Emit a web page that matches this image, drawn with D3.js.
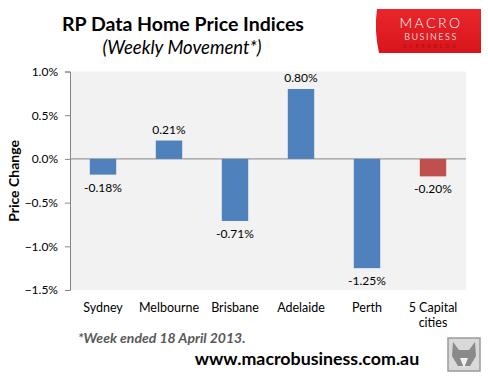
<!DOCTYPE html>
<html>
<head>
<meta charset="utf-8">
<script src="https://cdn.jsdelivr.net/npm/d3@7"></script>
<style>
  body { margin: 0; background: #fff; }
  text { font-family: Lato, "Open Sans", sans-serif; }
</style>
</head>
<body>
<div id="chart"></div>
<script>
const cities = ["Sydney", "Melbourne", "Brisbane", "Adelaide", "Perth", "5 Capital cities"]
const weeklyChange = [-0.18, 0.21, -0.71, 0.80, -1.25, -0.20]
const yTicks = [1.0, 0.5, 0.0, -0.5, -1.0, -1.5]

const width = 488
const height = 381
const plot = {left: 70, right: 466, top: 71.5, bottom: 290}

const svg = d3.select("#chart")
  .append("svg")
  .attr("width", width)
  .attr("height", height)

const x = d3.scaleBand()
  .domain(cities)
  .range([plot.left, plot.right])
  .paddingInner(0.6)
  .paddingOuter(0.3)

const y = d3.scaleLinear()
  .domain([-1.5, 1.0])
  .range([plot.bottom, plot.top])

// plot background
svg.append("rect")
  .attr("x", plot.left)
  .attr("y", plot.top)
  .attr("width", plot.right - plot.left)
  .attr("height", plot.bottom - plot.top)
  .attr("fill", "#f2f2f2")

// y axis
const yAxis = svg.append("g")
  .attr("transform", "translate(" + plot.left + ",0)")
  .call(d3.axisLeft(y).tickValues(yTicks).tickSize(5).tickPadding(7)
    .tickFormat(d => d3.format(".1f")(d) + "%"))
yAxis.select(".domain").attr("stroke", "#868686")
yAxis.selectAll(".tick line").attr("stroke", "#868686")
yAxis.selectAll("text").attr("font-size", 12).attr("fill", "#000")
  .attr("font-family", "Lato, sans-serif")

// zero line
svg.append("line")
  .attr("x1", plot.left)
  .attr("x2", plot.right)
  .attr("y1", y(0))
  .attr("y2", y(0))
  .attr("stroke", "#868686")

// bars
svg.selectAll(".bar")
  .data(weeklyChange)
  .enter()
  .append("rect")
  .attr("class", "bar")
  .attr("x", (d, i) => x(cities[i]))
  .attr("width", x.bandwidth())
  .attr("y", d => y(Math.max(0, d)))
  .attr("height", d => Math.abs(y(d) - y(0)))
  .attr("fill", (d, i) => i === cities.length - 1 ? "#c0504d" : "#4f81bd")

// value labels
svg.selectAll(".val")
  .data(weeklyChange)
  .enter()
  .append("text")
  .attr("class", "val")
  .attr("x", (d, i) => x(cities[i]) + x.bandwidth() / 2)
  .attr("y", d => d < 0 ? y(d) + 17 : y(d) - 7)
  .attr("text-anchor", "middle")
  .attr("font-size", 12)
  .text(d => d.toFixed(2) + "%")

// category labels (the last one wraps onto two lines)
cities.forEach(function(d) {
  const parts = d === "5 Capital cities" ? ["5 Capital", "cities"] : [d]
  parts.forEach(function(p, k) {
    svg.append("text")
      .attr("class", "cat")
      .attr("x", x(d) + x.bandwidth() / 2)
      .attr("y", 312 + k * 15)
      .attr("text-anchor", "middle")
      .attr("font-size", 12.5)
      .text(p)
  })
})

// titles
svg.append("text")
  .attr("x", 183)
  .attr("y", 31)
  .attr("text-anchor", "middle")
  .attr("font-size", 19.5)
  .attr("font-weight", "bold")
  .text("RP Data Home Price Indices")

svg.append("text")
  .attr("x", 182)
  .attr("y", 54)
  .attr("text-anchor", "middle")
  .attr("font-size", 18.5)
  .attr("font-style", "italic")
  .text("(Weekly Movement*)")

// y label
svg.append("text")
  .attr("transform", "translate(19,181) rotate(-90)")
  .attr("text-anchor", "middle")
  .attr("font-size", 14)
  .attr("font-weight", "bold")
  .text("Price Change")

// footnote
svg.append("text")
  .attr("x", 78)
  .attr("y", 343)
  .attr("font-size", 14)
  .attr("font-weight", "bold")
  .attr("font-style", "italic")
  .attr("fill", "#595959")
  .text("*Week ended 18 April 2013.")

svg.append("text")
  .attr("x", 307)
  .attr("y", 365)
  .attr("text-anchor", "middle")
  .attr("font-size", 17.8)
  .attr("font-weight", "bold")
  .text("www.macrobusiness.com.au")

// logo
const grad = svg.append("defs").append("linearGradient")
  .attr("id", "logoGrad")
  .attr("x1", 0).attr("x2", 0).attr("y1", 0).attr("y2", 1)
grad.append("stop").attr("offset", "0%").attr("stop-color", "#e8262b")
grad.append("stop").attr("offset", "100%").attr("stop-color", "#d8151b")

svg.append("path")
  .attr("d", "M377,9 L481,9 L481,53 L379,53 Q374,30 377,9 Z")
  .attr("fill", "url(#logoGrad)")

svg.append("text")
  .attr("x", 431).attr("y", 28)
  .attr("text-anchor", "middle")
  .attr("font-size", 14)
  .attr("font-weight", 300)
  .attr("letter-spacing", 2.5)
  .attr("fill", "#fff")
  .attr("font-family", "DejaVu Sans, sans-serif")
  .text("MACRO")
svg.append("text")
  .attr("x", 431).attr("y", 40)
  .attr("text-anchor", "middle")
  .attr("font-size", 9)
  .attr("letter-spacing", 1.5)
  .attr("fill", "#f6c7c7")
  .attr("font-family", "DejaVu Sans, sans-serif")
  .text("BUSINESS")
svg.append("text")
  .attr("x", 431).attr("y", 47.5)
  .attr("text-anchor", "middle")
  .attr("font-size", 5)
  .attr("letter-spacing", 3)
  .attr("fill", "#a01015")
  .attr("font-family", "DejaVu Sans, sans-serif")
  .text("SUPERBLOG")

// wolf badge
svg.append("rect")
  .attr("x", 448).attr("y", 338)
  .attr("width", 32).attr("height", 33)
  .attr("fill", "#d9d9d9")
  .attr("stroke", "#9a9a9a")
  .attr("stroke-width", 1.5)
svg.append("path")
  .attr("d", "M453,342 L459,350 L469,350 L475,342 L476,356 L470,366 L458,366 L452,356 Z")
  .attr("fill", "#8a8a8a")
svg.append("path")
  .attr("d", "M460,358 L464,368 L468,358 Z")
  .attr("fill", "#f0f0f0")
</script>
</body>
</html>
